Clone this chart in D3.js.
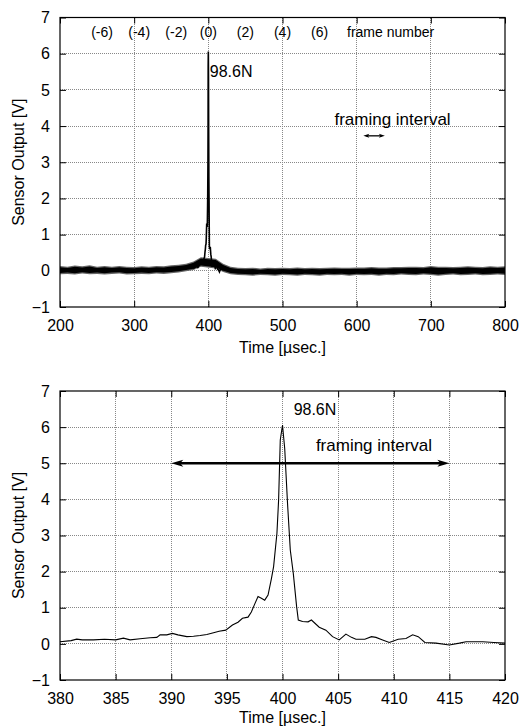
<!DOCTYPE html>
<html>
<head>
<meta charset="utf-8">
<script src="https://cdn.jsdelivr.net/npm/d3@7"></script>
<style>
  body { margin: 0; background: #fff; }
  svg text { font-family: "Liberation Sans", Arial, Helvetica, sans-serif; fill: #000; }
</style>
</head>
<body>
<svg id="chart" width="519" height="728"></svg>
<script>
// ---- data ----

// overview trace: noise envelope every 10 usec (low / high edge of the band)
const bandT  = [200,210,220,230,240,250,260,270,280,290,300,310,320,330,340,350,360,370,380,390,
                410,420,430,440,450,460,470,480,490,500,510,520,530,540,550,560,570,580,590,600,
                610,620,630,640,650,660,670,680,690,700,710,720,730,740,750,760,770,780,790,800];
const bandLo = [-0.06,-0.05,-0.07,-0.04,-0.06,-0.05,-0.07,-0.05,-0.04,-0.07,-0.06,-0.05,-0.06,-0.04,-0.05,-0.03,-0.01,0.02,0.06,0.15,
                0.10,0.00,-0.06,-0.08,-0.09,-0.10,-0.08,-0.09,-0.10,-0.08,-0.09,-0.10,-0.08,-0.09,-0.10,-0.08,-0.09,-0.08,-0.10,-0.08,
                -0.09,-0.08,-0.10,-0.08,-0.09,-0.07,-0.08,-0.09,-0.07,-0.08,-0.10,-0.08,-0.07,-0.09,-0.08,-0.07,-0.09,-0.08,-0.07,-0.08];
const bandHi = [0.10,0.08,0.11,0.09,0.12,0.08,0.10,0.08,0.10,0.08,0.07,0.09,0.08,0.10,0.09,0.12,0.13,0.16,0.22,0.34,
                0.30,0.16,0.08,0.05,0.04,0.05,0.03,0.05,0.04,0.05,0.04,0.06,0.04,0.05,0.04,0.05,0.06,0.05,0.05,0.06,
                0.06,0.07,0.06,0.06,0.07,0.07,0.08,0.08,0.07,0.10,0.08,0.08,0.07,0.08,0.09,0.08,0.07,0.09,0.08,0.09];

// detailed trace around the peak (usec, V)
const detT = [380,381,381.5,382,383,384,385,385.7,386.3,387.2,388.1,388.7,389,389.6,390.1,390.6,391.4,392,392.6,393.2,
              393.8,394.3,394.9,395.5,396,396.4,396.9,397.2,397.5,397.8,398.1,398.4,398.7,399,399.2,399.5,399.65,399.8,400,400.2,
              400.45,400.7,400.97,401.27,401.42,401.8,402.3,402.6,403.3,403.9,404.5,405.1,405.7,406.2,406.6,407.4,408,408.4,409,409.6,
              410.4,411.1,411.7,412.2,412.8,413.8,415,415.9,416.5,418,419,420];
const detV = [0.06,0.09,0.13,0.11,0.11,0.13,0.11,0.16,0.11,0.14,0.17,0.18,0.25,0.25,0.29,0.25,0.20,0.21,0.23,0.26,
              0.31,0.35,0.38,0.52,0.60,0.71,0.74,0.88,1.10,1.31,1.26,1.21,1.35,1.80,2.14,3.06,3.98,5.64,6.06,5.40,
              3.90,2.60,1.95,1.03,0.66,0.62,0.61,0.66,0.46,0.38,0.20,0.11,0.27,0.18,0.13,0.13,0.20,0.18,0.11,0.04,
              0.13,0.15,0.25,0.20,0.04,0.02,-0.03,0.02,0.06,0.06,0.04,0.02];

// axes
const yTicks = [-1,0,1,2,3,4,5,6,7];
const xTicksTop = [200,300,400,500,600,700,800];
const xTicksBottom = [380,385,390,395,400,405,410,415,420];

// annotations
const frameNums = [-6,-4,-2,0,2,4,6];
const frameTimes = [250,300,350,400,450,500,550];
const forceLabel = "98.6N";
const xTitle = "Time [\u00b5sec.]";
const yTitle = "Sensor Output [V]";

// ---- drawing ----
const svg = d3.select("#chart");
svg.append("rect").attr("width", 519).attr("height", 728).attr("fill", "#fff");

function panel(opt) {
  const x = d3.scaleLinear().domain(opt.xDomain).range([60, 505]);
  const y = d3.scaleLinear().domain([-1, 7]).range([opt.bottom, opt.top]);
  const g = svg.append("g");

  // grid
  g.selectAll(".gx").data(opt.xTicks.slice(1, -1)).join("line")
    .attr("x1", d => x(d)).attr("x2", d => x(d))
    .attr("y1", opt.top).attr("y2", opt.bottom)
    .attr("stroke", "#888").attr("stroke-width", 1).attr("stroke-dasharray", "1,1")
    .attr("shape-rendering", "crispEdges");
  g.selectAll(".gy").data(yTicks.slice(1, -1)).join("line")
    .attr("x1", 60).attr("x2", 505)
    .attr("y1", d => y(d)).attr("y2", d => y(d))
    .attr("stroke", "#888").attr("stroke-width", 1).attr("stroke-dasharray", "1,1")
    .attr("shape-rendering", "crispEdges");

  // axes with inward ticks on all sides
  const tl = 6;
  const ax = g.append("g").attr("transform", `translate(0,${opt.bottom})`)
    .call(d3.axisBottom(x).tickValues(opt.xTicks).tickSize(-tl).tickPadding(9));
  const axT = g.append("g").attr("transform", `translate(0,${opt.top})`)
    .call(d3.axisTop(x).tickValues(opt.xTicks).tickSize(-tl).tickFormat(""));
  const ay = g.append("g").attr("transform", "translate(60,0)")
    .call(d3.axisLeft(y).tickValues(yTicks).tickSize(-tl).tickPadding(10));
  const ayR = g.append("g").attr("transform", "translate(505,0)")
    .call(d3.axisRight(y).tickValues(yTicks).tickSize(-tl).tickFormat(""));
  [ax, axT, ay, ayR].forEach(a => {
    a.select(".domain").remove();
    a.selectAll("line").attr("stroke", "#000");
    a.selectAll("text").attr("font-size", 16)
      .style("font-family", '"Liberation Sans", Arial, sans-serif');
  });
  ax.selectAll("text").attr("dy", "0.95em");

  // trace
  opt.drawTrace(g, x, y);

  // border
  g.append("rect").attr("x", 60).attr("y", opt.top)
    .attr("width", 445).attr("height", opt.bottom - opt.top)
    .attr("fill", "none").attr("stroke", "#000").attr("stroke-width", 1.2);

  // axis titles
  g.append("text").attr("x", 282.5).attr("y", opt.bottom + opt.titleGap)
    .attr("text-anchor", "middle").attr("font-size", 16).text(xTitle);
  g.append("text").attr("transform", `translate(24,${(opt.top + opt.bottom) / 2}) rotate(-90)`)
    .attr("text-anchor", "middle").attr("font-size", 16).text(yTitle);

  return { g, x, y };
}

function arrowHead(g, tipX, tipY, dir, len, half) {
  const back = tipX - dir * len;
  const notch = tipX - dir * len * 0.75;
  g.append("path")
    .attr("d", `M${tipX},${tipY}L${back},${tipY - half}L${notch},${tipY}L${back},${tipY + half}Z`)
    .attr("fill", "#000");
}

// top panel: full record
const upper = panel({
  top: 17.5, bottom: 307, titleGap: 46, xDomain: [200, 800], xTicks: xTicksTop,
  drawTrace(g, x, y) {
    const band = bandT.map((t, i) => ({ t, lo: bandLo[i], hi: bandHi[i] }));
    // soft grey fringe of the noise, then the dense black core
    g.append("path").datum(band)
      .attr("d", d3.area().x(d => x(d.t)).y0(d => y(d.lo - 0.035)).y1(d => y(d.hi + 0.035)))
      .attr("fill", "#666");
    g.append("path").datum(band)
      .attr("d", d3.area().x(d => x(d.t)).y0(d => y(d.lo)).y1(d => y(d.hi)))
      .attr("fill", "#000");
    g.append("path").datum(detT.map((t, i) => [t, detV[i]]))
      .attr("d", d3.line().x(d => x(d[0])).y(d => y(d[1])))
      .attr("fill", "none").attr("stroke", "#000").attr("stroke-width", 1.6);
  }
});

upper.g.selectAll(".frame").data(frameNums).join("text")
  .attr("x", (d, i) => upper.x(frameTimes[i]) + (d < 0 ? 5 : 0))
  .attr("y", 37).attr("text-anchor", "middle").attr("font-size", 14)
  .text(d => `(${d})`);
upper.g.append("text").attr("x", upper.x(587)).attr("y", 37)
  .attr("font-size", 14).text("frame number");
upper.g.append("text").attr("x", upper.x(402)).attr("y", upper.y(5.5) + 5.7)
  .attr("font-size", 16).text(forceLabel);
upper.g.append("text").attr("x", upper.x(570)).attr("y", upper.y(4.2) + 6)
  .attr("font-size", 17).text("framing interval");
{
  const x1 = upper.x(609), x2 = upper.x(638), yy = upper.y(3.73);
  upper.g.append("line").attr("x1", x1 + 3).attr("x2", x2 - 3).attr("y1", yy).attr("y2", yy)
    .attr("stroke", "#000").attr("stroke-width", 1.3);
  arrowHead(upper.g, x1, yy, -1, 6, 2);
  arrowHead(upper.g, x2, yy, 1, 6, 2);
}

// bottom panel: zoom on the peak
const lower = panel({
  top: 391, bottom: 680, titleGap: 43, xDomain: [380, 420], xTicks: xTicksBottom,
  drawTrace(g, x, y) {
    g.append("path").datum(detT.map((t, i) => [t, detV[i]]))
      .attr("d", d3.line().x(d => x(d[0])).y(d => y(d[1])))
      .attr("fill", "none").attr("stroke", "#000").attr("stroke-width", 1.1);
  }
});

lower.g.append("text").attr("x", lower.x(401)).attr("y", lower.y(6.5) + 5.7)
  .attr("font-size", 16).text(forceLabel);
lower.g.append("text").attr("x", lower.x(403)).attr("y", lower.y(5.5) + 6)
  .attr("font-size", 17).text("framing interval");
{
  const x1 = lower.x(390), x2 = lower.x(415), yy = lower.y(5);
  lower.g.append("line").attr("x1", x1 + 6).attr("x2", x2 - 6).attr("y1", yy).attr("y2", yy)
    .attr("stroke", "#000").attr("stroke-width", 2.5);
  arrowHead(lower.g, x1, yy, -1, 12, 3.5);
  arrowHead(lower.g, x2, yy, 1, 12, 3.5);
}
</script>
</body>
</html>
